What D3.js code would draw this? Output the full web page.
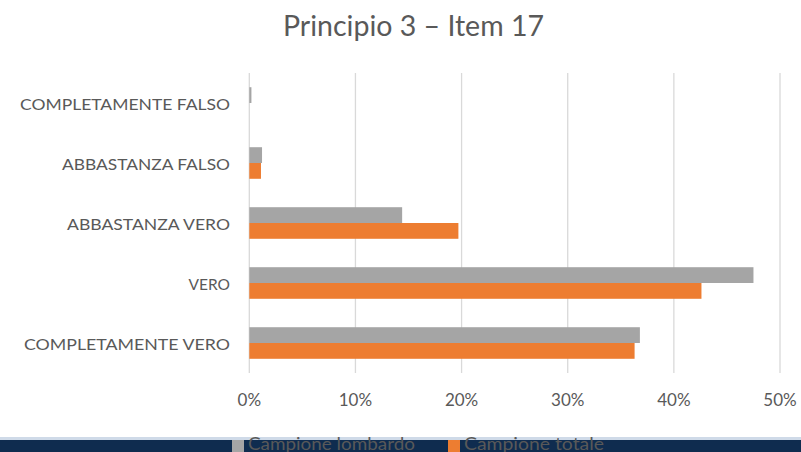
<!DOCTYPE html>
<html>
<head>
<meta charset="utf-8">
<script src="https://cdn.jsdelivr.net/npm/d3@7/dist/d3.min.js"></script>
<style>
  html, body { margin: 0; padding: 0; background: #fff; }
  svg { display: block; }
  text { font-family: Lato, "Open Sans", sans-serif; }
</style>
</head>
<body>
<svg id="chart" width="801" height="452"></svg>
<script>
const categories = ["COMPLETAMENTE FALSO", "ABBASTANZA FALSO", "ABBASTANZA VERO", "VERO", "COMPLETAMENTE VERO"];
const seriesNames = ["Campione lombardo", "Campione totale"];
const lombardo = [0.2, 1.2, 14.4, 47.5, 36.8];
const totale = [0, 1.1, 19.7, 42.6, 36.3];
const xTicks = [0, 10, 20, 30, 40, 50];
const colors = ["#A5A5A5", "#ED7D31"];
const title = "Principio 3 – Item 17";

const svg = d3.select("#chart");
const W = 801, H = 452;

const x = d3.scaleLinear().domain([0, 50]).range([249.3, 780]);
const y = d3.scaleBand().domain(categories).range([73, 373]).paddingInner(0.4737).paddingOuter(0.2368);
const ySub = d3.scaleBand().domain(seriesNames).range([0, y.bandwidth()]);

// gridlines
svg.append("g").selectAll("line").data(xTicks).join("line")
  .attr("x1", d => x(d)).attr("x2", d => x(d))
  .attr("y1", 73).attr("y2", 373)
  .attr("stroke", "#D9D9D9").attr("stroke-width", 1.3);

// bars
const rows = categories.map((c, i) => ({c, vals: [lombardo[i], totale[i]]}));
const g = svg.append("g").selectAll("g").data(rows).join("g")
  .attr("transform", d => `translate(0,${y(d.c)})`);
g.selectAll("rect").data(d => d.vals.map((v, k) => ({v, k}))).join("rect")
  .attr("x", x(0))
  .attr("y", d => ySub(seriesNames[d.k]))
  .attr("width", d => x(d.v) - x(0))
  .attr("height", ySub.bandwidth())
  .attr("fill", d => colors[d.k]);

// category labels (widths matched to the reference rendering)
const labelWidths = [210, 168, 163, null, 206];
svg.append("g").selectAll("text").data(categories).join("text")
  .attr("x", 230).attr("y", d => y(d) + y.bandwidth() / 2 + 3)
  .attr("text-anchor", "end")
  .attr("dominant-baseline", "middle")
  .attr("fill", "#595959").attr("font-size", 15.5)
  .attr("textLength", (d, i) => labelWidths[i])
  .attr("lengthAdjust", (d, i) => labelWidths[i] ? "spacingAndGlyphs" : null)
  .text(d => d);

// x tick labels
svg.append("g").selectAll("text").data(xTicks).join("text")
  .attr("x", d => x(d)).attr("y", 406)
  .attr("text-anchor", "middle")
  .attr("fill", "#595959").attr("font-size", 17)
  .text(d => d + "%");

// title
svg.append("text").attr("x", 283).attr("y", 36)
  .attr("fill", "#595959").attr("font-size", 28)
  .attr("textLength", 261).attr("lengthAdjust", "spacingAndGlyphs")
  .text(title);

// footer band
svg.append("rect").attr("x", 0).attr("y", 437).attr("width", W).attr("height", 3).attr("fill", "#CFDAE8");
svg.append("rect").attr("x", 0).attr("y", 440).attr("width", W).attr("height", 12).attr("fill", "#0F2C4F");

// legend
const legX = [232, 448];
const legW = [167, 140];
const leg = svg.append("g").selectAll("g").data(seriesNames).join("g")
  .attr("transform", (d, i) => `translate(${legX[i]},0)`);
leg.append("rect").attr("x", 0).attr("y", 440).attr("width", 12).attr("height", 12)
  .attr("fill", (d, i) => colors[i]);
leg.append("text").attr("x", 16).attr("y", 450).attr("fill", "#595959").attr("font-size", 18)
  .attr("textLength", (d, i) => legW[i]).attr("lengthAdjust", "spacingAndGlyphs")
  .text(d => d);
</script>
</body>
</html>
